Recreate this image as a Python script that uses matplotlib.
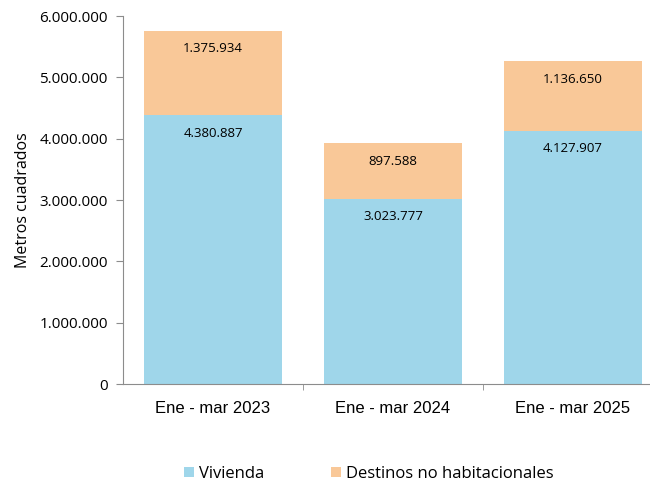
import numpy as np
import matplotlib.pyplot as plt
from matplotlib.ticker import FuncFormatter

periodos = ["Ene - mar 2023", "Ene - mar 2024", "Ene - mar 2025"]
vivienda = [4380887, 3023777, 4127907]
no_habitacional = [1375934, 897588, 1136650]

azul = "#9fd6ea"
naranja = "#f9c898"
gris = "#8c8c8c"

plt.rcParams['font.family'] = ['Open Sans', 'DejaVu Sans']

def miles(v, pos=None):
    return f"{int(v):,}".replace(",", ".")

fig = plt.figure(figsize=(6.5, 4.87), dpi=100)
ax = fig.add_axes([123/650, 1-384/487, 540/650, 368/487])

x = np.arange(len(periodos))
ax.bar(x, vivienda, width=0.77, color=azul, label="Vivienda")
ax.bar(x, no_habitacional, width=0.77, bottom=vivienda, color=naranja,
       label="Destinos no habitacionales")

for i in range(len(x)):
    ax.annotate(miles(vivienda[i]), (x[i], vivienda[i]), xytext=(0, -13),
                textcoords="offset points", ha="center", va="center", fontsize=9.5)
    tope = vivienda[i] + no_habitacional[i]
    ax.annotate(miles(no_habitacional[i]), (x[i], tope), xytext=(0, -13),
                textcoords="offset points", ha="center", va="center", fontsize=9.5)

ax.set_xlim(-0.5, len(x) - 0.5)
ax.set_ylim(0, 6000000)
ax.set_yticks(np.arange(0, 6000001, 1000000))
ax.yaxis.set_major_formatter(FuncFormatter(miles))
ax.set_xticks(x)
ax.set_xticklabels(periodos, family=['Liberation Sans'], fontsize=12)
ax.tick_params(axis='x', length=0, pad=12)
ax.set_xticks([0.5, 1.5], minor=True)
ax.tick_params(axis='x', which='minor', length=4, color=gris, direction='out')
ax.tick_params(axis='y', length=5, color=gris, labelsize=11, pad=6)

for s in ["top", "right"]:
    ax.spines[s].set_visible(False)
ax.spines["left"].set_color(gris)
ax.spines["bottom"].set_color(gris)

ax.set_ylabel("Metros cuadrados", fontsize=11.5, labelpad=6)

fig.legend(loc="center", bbox_to_anchor=(0.568, 1-474/487), ncol=2, frameon=False,
           fontsize=12, handlelength=0.6, handleheight=0.6, columnspacing=4.0,
           handletextpad=0.3)

fig.savefig("out.png", dpi=100)
